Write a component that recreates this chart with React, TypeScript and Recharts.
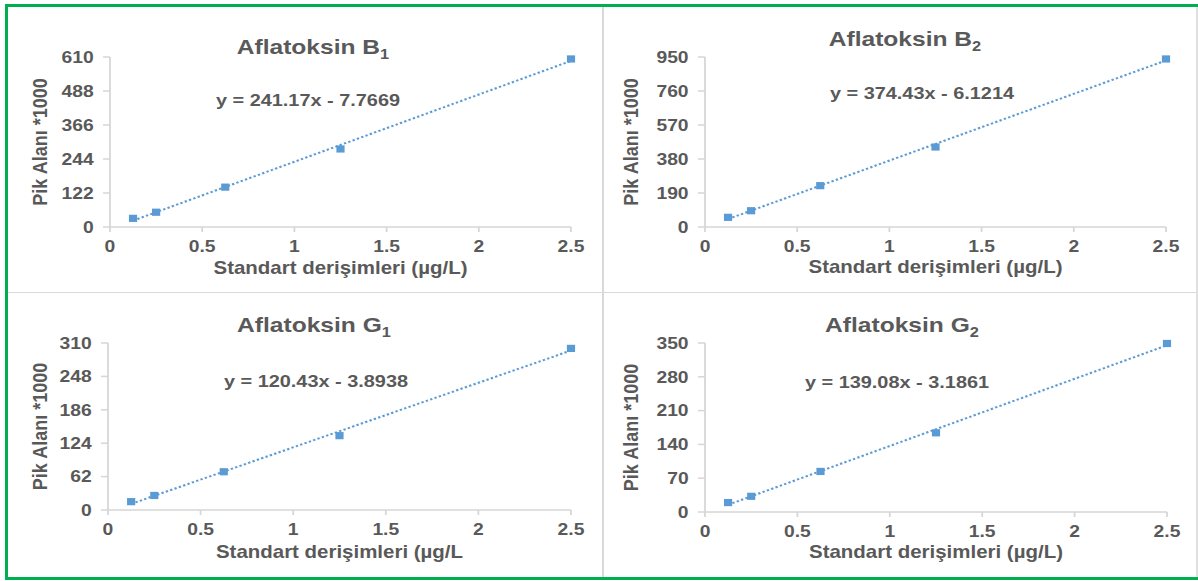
import React from "react";
import { ScatterChart, Scatter, XAxis, YAxis } from "recharts";

// standard concentrations (µg/L)
const concentrations = [0.125, 0.25, 0.625, 1.25, 2.5];

// peak areas (*1000)
const areaB1 = [31, 53, 143, 280, 603];
const areaB2 = [54, 91, 231, 447, 939];
const areaG1 = [15.5, 27, 71, 138, 300];
const areaG2 = [19.5, 32.5, 84, 164, 349];

const ticksB1 = [0, 122, 244, 366, 488, 610];
const ticksB2 = [0, 190, 380, 570, 760, 950];
const ticksG1 = [0, 62, 124, 186, 248, 310];
const ticksG2 = [0, 70, 140, 210, 280, 350];
const xTicks = [0, 0.5, 1, 1.5, 2, 2.5];

const titleLetters = ["B", "B", "G", "G"];
const titleSubs = ["1", "2", "1", "2"];
const equations = [
  "y = 241.17x - 7.7669",
  "y = 374.43x - 6.1214",
  "y = 120.43x - 3.8938",
  "y = 139.08x - 3.1861",
];
const xLabels = [
  "Standart derişimleri (µg/L)",
  "Standart derişimleri (µg/L)",
  "Standart derişimleri (µg/L",
  "Standart derişimleri (µg/L)",
];
const yLabel = "Pik Alanı *1000";

const BLUE = "#5B9BD5";
const TEXT = "#595959";
const AXIS = "#D6D6D6";
const FONT = "'Liberation Sans', Arial, sans-serif";
// the original figure is a bit wider than tall
const S = 1.17;
const PANEL_W = 600 / S;

type Layout = {
  left: number;
  top: number;
  height: number;
  plotLeft: number;
  plotRight: number;
  plotTop: number;
  plotBottom: number;
  yLabelX: number;
  xLabelOffset: number;
  titleX: number;
  titleY: number;
  eqX: number;
  eqY: number;
};

// positions in final page pixels, relative to each panel
const layouts: Layout[] = [
  { left: 0, top: 0, height: 290, plotLeft: 110, plotRight: 571, plotTop: 57, plotBottom: 227, yLabelX: 40, xLabelOffset: 16, titleX: 313, titleY: 46, eqX: 308, eqY: 100 },
  { left: 600, top: 0, height: 290, plotLeft: 105, plotRight: 566, plotTop: 57, plotBottom: 227, yLabelX: 31, xLabelOffset: 17, titleX: 305, titleY: 38, eqX: 322, eqY: 93 },
  { left: 0, top: 290, height: 291, plotLeft: 108, plotRight: 571, plotTop: 53, plotBottom: 220, yLabelX: 40, xLabelOffset: 23, titleX: 314, titleY: 34, eqX: 316, eqY: 91 },
  { left: 600, top: 290, height: 291, plotLeft: 105, plotRight: 567, plotTop: 53, plotBottom: 222, yLabelX: 31, xLabelOffset: 23, titleX: 302, titleY: 34, eqX: 297, eqY: 92 },
];

const Square = (props: any) => (
  <rect x={props.cx - 3.5} y={props.cy - 3.6} width={7} height={7.2} fill={BLUE} />
);

const tickStyle = { fill: TEXT, fontSize: 16.5, fontWeight: "bold" as const, fontFamily: FONT };

function Panel({ values, ticks, idx }: { values: number[]; ticks: number[]; idx: number }) {
  const l = layouts[idx];
  const data = concentrations.map((x, i) => ({ x, y: values[i] }));
  return (
    <div
      style={{
        position: "absolute",
        left: l.left,
        top: l.top,
        width: PANEL_W,
        height: l.height,
        transform: `scaleX(${S})`,
        transformOrigin: "0 0",
        fontFamily: FONT,
      }}
    >
      <ScatterChart
        width={PANEL_W}
        height={l.height}
        margin={{ top: l.plotTop, right: PANEL_W - l.plotRight / S, left: 0, bottom: 0 }}
      >
        <XAxis
          type="number"
          dataKey="x"
          domain={[0, 2.5]}
          ticks={xTicks}
          height={l.height - l.plotBottom}
          stroke={AXIS}
          strokeWidth={1.5}
          tickSize={5}
          tickMargin={8}
          tick={tickStyle}
          label={{
            value: xLabels[idx],
            position: "insideBottom",
            offset: l.xLabelOffset,
            fill: TEXT,
            fontSize: 17.5,
            fontWeight: "bold",
          }}
        />
        <YAxis
          type="number"
          dataKey="y"
          domain={[0, ticks[ticks.length - 1]]}
          ticks={ticks}
          width={l.plotLeft / S}
          stroke={AXIS}
          strokeWidth={1.5}
          tickSize={6}
          tickMargin={8}
          tick={tickStyle}
          label={{
            value: yLabel,
            angle: -90,
            position: "insideLeft",
            offset: l.yLabelX / S,
            fill: TEXT,
            fontSize: 18,
            fontWeight: "bold",
            style: { textAnchor: "middle" },
          }}
        />
        <Scatter
          data={data}
          fill={BLUE}
          shape={Square}
          line={{ stroke: BLUE, strokeWidth: 2, strokeDasharray: "2 2" }}
          lineType="fitting"
          isAnimationActive={false}
        />
      </ScatterChart>
      <div
        style={{
          position: "absolute",
          left: l.titleX / S,
          top: l.titleY,
          transform: "translate(-50%, -50%)",
          whiteSpace: "nowrap",
          fontSize: 21,
          lineHeight: 1,
          fontWeight: "bold",
          color: TEXT,
        }}
      >
        Aflatoksin {titleLetters[idx]}
        <span style={{ fontSize: 14, position: "relative", top: 5 }}>{titleSubs[idx]}</span>
      </div>
      <div
        style={{
          position: "absolute",
          left: l.eqX / S,
          top: l.eqY,
          transform: "translate(-50%, -50%)",
          whiteSpace: "nowrap",
          fontSize: 17,
          lineHeight: 1,
          fontWeight: "bold",
          color: TEXT,
        }}
      >
        {equations[idx]}
      </div>
    </div>
  );
}

export default function App() {
  return (
    <div style={{ position: "absolute", left: 0, top: 0, width: 1198, height: 581, background: "#fff", overflow: "hidden" }}>
      {/* dividers between the four panels */}
      <div style={{ position: "absolute", left: 602, top: 6, width: 2, height: 572, background: "#D9D9D9" }} />
      <div style={{ position: "absolute", left: 7, top: 292, width: 1190, height: 1, background: "#D9D9D9" }} />
      <div style={{ position: "absolute", left: 1196, top: 6, width: 2, height: 572, background: "#E0E0E0" }} />
      {/* green frame */}
      <div
        style={{
          position: "absolute",
          left: 5,
          top: 4,
          width: 1200,
          height: 570,
          borderLeft: "3px solid #00B050",
          borderTop: "3px solid #00B050",
          borderBottom: "3px solid #00B050",
        }}
      />
      <Panel values={areaB1} ticks={ticksB1} idx={0} />
      <Panel values={areaB2} ticks={ticksB2} idx={1} />
      <Panel values={areaG1} ticks={ticksG1} idx={2} />
      <Panel values={areaG2} ticks={ticksG2} idx={3} />
    </div>
  );
}
